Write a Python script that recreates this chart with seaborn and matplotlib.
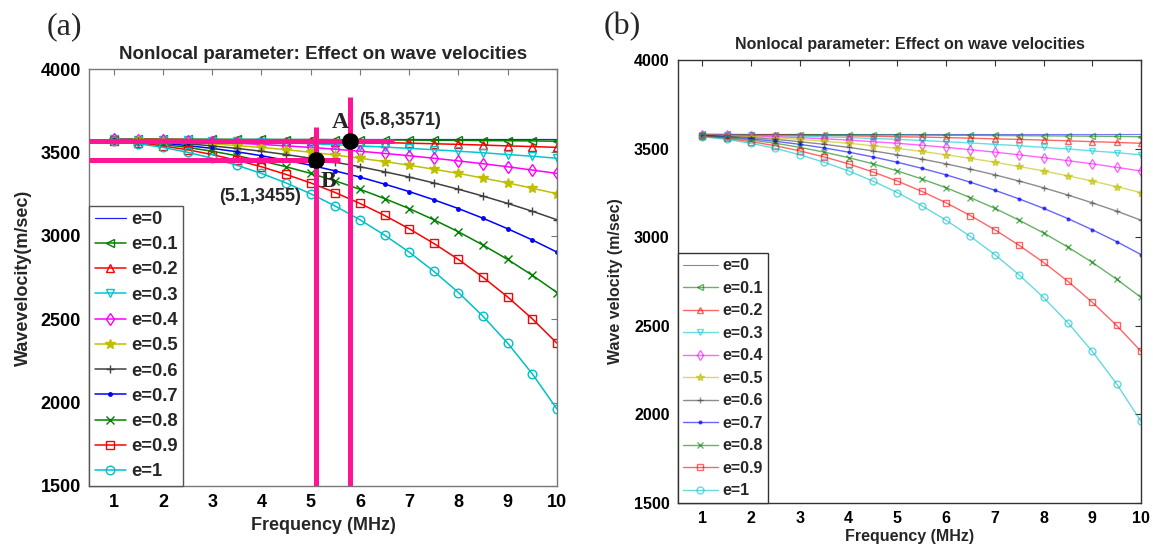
import matplotlib
matplotlib.use("Agg")
import matplotlib.pyplot as plt
import seaborn as sns

# ---------------- data ----------------
freq = [1, 1.5, 2, 2.5, 3, 3.5, 4, 4.5, 5, 5.5, 6, 6.5, 7, 7.5, 8, 8.5, 9, 9.5, 10]
v_e00 = [3580, 3580, 3580, 3580, 3580, 3580, 3580, 3580, 3580, 3580, 3580, 3580, 3580, 3580, 3580, 3580, 3580, 3580, 3580]
v_e01 = [3580, 3580, 3579, 3579, 3579, 3578, 3578, 3577, 3577, 3576, 3575, 3575, 3574, 3573, 3572, 3571, 3570, 3569, 3567]
v_e02 = [3580, 3579, 3578, 3577, 3575, 3574, 3572, 3570, 3567, 3565, 3562, 3559, 3555, 3552, 3548, 3544, 3539, 3535, 3530]
v_e03 = [3579, 3577, 3575, 3573, 3570, 3566, 3562, 3557, 3552, 3546, 3539, 3532, 3524, 3516, 3507, 3498, 3487, 3477, 3465]
v_e04 = [3578, 3575, 3572, 3567, 3562, 3555, 3548, 3539, 3530, 3519, 3507, 3494, 3480, 3465, 3449, 3432, 3414, 3394, 3374]
v_e05 = [3577, 3573, 3567, 3560, 3552, 3541, 3530, 3516, 3501, 3484, 3465, 3445, 3423, 3399, 3374, 3346, 3317, 3285, 3252]
v_e06 = [3575, 3570, 3562, 3552, 3539, 3524, 3507, 3487, 3465, 3441, 3414, 3384, 3352, 3317, 3279, 3238, 3194, 3147, 3096]
v_e07 = [3574, 3566, 3555, 3541, 3524, 3504, 3480, 3453, 3423, 3389, 3352, 3310, 3265, 3216, 3163, 3105, 3042, 2975, 2902]
v_e08 = [3572, 3562, 3548, 3530, 3507, 3480, 3449, 3414, 3374, 3329, 3279, 3223, 3163, 3096, 3024, 2944, 2858, 2763, 2660]
v_e09 = [3570, 3557, 3539, 3516, 3487, 3453, 3414, 3368, 3317, 3259, 3194, 3122, 3042, 2954, 2858, 2751, 2633, 2502, 2356]
v_e10 = [3567, 3552, 3530, 3501, 3465, 3423, 3374, 3317, 3252, 3178, 3096, 3004, 2902, 2787, 2660, 2517, 2356, 2172, 1961]

series = [v_e00, v_e01, v_e02, v_e03, v_e04, v_e05, v_e06, v_e07, v_e08, v_e09, v_e10]
labels = ["e=0", "e=0.1", "e=0.2", "e=0.3", "e=0.4", "e=0.5", "e=0.6", "e=0.7", "e=0.8", "e=0.9", "e=1"]

x_ticks = [1, 2, 3, 4, 5, 6, 7, 8, 9, 10]
y_ticks = [1500, 2000, 2500, 3000, 3500, 4000]

# annotated points in panel (a)
pt_x = [5.8, 5.1]
pt_y = [3571, 3455]
pt_names = ["A", "B"]
pt_texts = ["(5.8,3571)", "(5.1,3455)"]
guide_h_end = [6.7, 5.6]      # where the horizontal pink guides stop
guide_v_top = [3830, 3650]    # where the vertical pink guides start

# ---------------- styles ----------------
colors = ["#2020ff", "#008000", "#ff0000", "#00c8d0", "#ff00ff", "#bfbf00",
          "#404040", "#0000ff", "#008000", "#ff0000", "#00c0c8"]
markers = [None, "<", "^", "v", "d", "*", "+", ".", "x", "s", "o"]
hollow = [False, True, True, True, True, False, False, False, False, True, True]

sns.set_theme(style="white")
plt.rcParams["font.family"] = ["Liberation Sans", "DejaVu Sans"]
plt.rcParams["font.weight"] = "bold"
plt.rcParams["axes.labelweight"] = "bold"
plt.rcParams["axes.titleweight"] = "bold"

fig = plt.figure(figsize=(11.53, 5.45), dpi=100)
fig.patch.set_facecolor("white")

W, H = 1153, 545
def box(l, t, r, b):
    return [l / W, 1 - b / H, (r - l) / W, (b - t) / H]

ax_a = fig.add_axes(box(89, 69, 557, 486))
ax_b = fig.add_axes(box(678, 60, 1141, 503))

def draw(ax, ms_scale, alpha, lw):
    for vals, lab, c, m, hol in zip(series, labels, colors, markers, hollow):
        ms = 6.2 * ms_scale
        if m == ".":
            ms = 5 * ms_scale
        if m == "*":
            ms = 7.5 * ms_scale
        kw = dict(color=c, linewidth=lw, alpha=alpha, label=lab)
        if m is not None:
            kw.update(marker=m, markersize=ms, markeredgecolor=c,
                      markeredgewidth=1.0,
                      markerfacecolor=("none" if hol else c))
        else:
            kw.update(linewidth=lw * 0.8)
        sns.lineplot(x=freq, y=vals, ax=ax, errorbar=None, sort=True, **kw)

def style_axes(ax, fs, spine_col):
    ax.set_xlim(0.5, 10)
    ax.set_ylim(1500, 4000)
    ax.set_xticks(x_ticks)
    ax.set_yticks(y_ticks)
    ax.tick_params(direction="in", length=4, width=0.8, top=True, right=True,
                   labelsize=fs, colors=spine_col, labelcolor="black", pad=6)
    for lab in ax.get_xticklabels() + ax.get_yticklabels():
        lab.set_fontweight("bold")
    for s in ax.spines.values():
        s.set_visible(True)
        s.set_color(spine_col)
        s.set_linewidth(1.0)
    ax.grid(False)

# ---------------- panel (a) ----------------
draw(ax_a, 1.0, 1.0, 1.1)
style_axes(ax_a, 13, "#777777")
ax_a.set_title("Nonlocal parameter: Effect on wave velocities", fontsize=13.5,
               fontweight="bold", pad=7)
ax_a.set_xlabel("Frequency (MHz)", fontsize=13, fontweight="bold", labelpad=4)
ax_a.set_ylabel("Wavevelocity(m/sec)", fontsize=13, fontweight="bold", labelpad=6)
h, l = ax_a.get_legend_handles_labels()
leg = ax_a.legend(h, l, loc="lower left", bbox_to_anchor=(0, 0), borderaxespad=0,
                  frameon=True, fancybox=False, framealpha=1,
                  edgecolor="#555555", labelspacing=0.45, handlelength=1.7,
                  handletextpad=0.3, borderpad=0.3, prop={"weight": "bold", "size": 13.2})
leg.get_frame().set_linewidth(1.0)

pink = "#ff1493"
for x0, y0, xe, yt in zip(pt_x, pt_y, guide_h_end, guide_v_top):
    ax_a.plot([0.5, xe], [y0, y0], color=pink, lw=3.6, solid_capstyle="butt", zorder=5)
    ax_a.plot([x0, x0], [1500, yt], color=pink, lw=3.6, solid_capstyle="butt", zorder=5)
ax_a.plot(pt_x, pt_y, linestyle="none", marker="o", markersize=11, color="black", zorder=6)
ax_a.text(pt_x[0] - 0.02, pt_y[0] + 45, pt_names[0], family="Liberation Serif",
          fontsize=17, fontweight="bold", ha="right", va="bottom", zorder=7)
ax_a.text(pt_x[1] + 0.1, pt_y[1] - 65, pt_names[1], family="Liberation Serif",
          fontsize=17, fontweight="bold", ha="left", va="top", zorder=7)
ax_a.text(pt_x[0] + 0.18, pt_y[0] + 70, pt_texts[0], fontsize=13, fontweight="bold",
          ha="left", va="bottom", zorder=7)
ax_a.text(pt_x[1] - 0.3, pt_y[1] - 220, pt_texts[1], fontsize=13, fontweight="bold",
          ha="right", va="center", zorder=7)

# ---------------- panel (b) ----------------
draw(ax_b, 0.8, 0.6, 1.0)
style_axes(ax_b, 11.5, "#333333")
ax_b.set_title("Nonlocal parameter: Effect on wave velocities", fontsize=11.5,
               fontweight="bold", pad=8)
ax_b.set_xlabel("Frequency (MHz)", fontsize=11.5, fontweight="bold", labelpad=2)
ax_b.set_ylabel("Wave velocity (m/sec)", fontsize=11.5, fontweight="bold", labelpad=8)
h, l = ax_b.get_legend_handles_labels()
leg = ax_b.legend(h, l, loc="lower left", bbox_to_anchor=(0, 0), borderaxespad=0,
                  frameon=True, fancybox=False, framealpha=1,
                  edgecolor="#333333", labelspacing=0.47, handlelength=2.2,
                  handletextpad=0.3, borderpad=0.3, prop={"weight": "bold", "size": 11.5})
leg.get_frame().set_linewidth(1.0)

fig.text(64 / W, 1 - 27 / H, "(a)", family="Liberation Serif", fontsize=23,
         fontweight="normal", ha="center", va="center")
fig.text(622 / W, 1 - 27 / H, "(b)", family="Liberation Serif", fontsize=23,
         fontweight="normal", ha="center", va="center")

fig.savefig("out.png", dpi=100, facecolor="white")
